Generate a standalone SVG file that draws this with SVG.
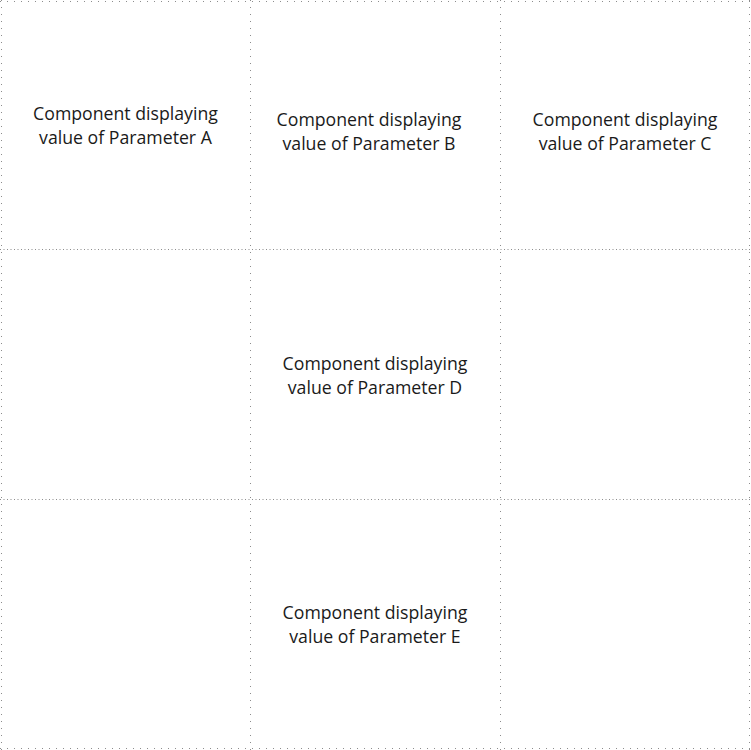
<svg xmlns="http://www.w3.org/2000/svg" width="751" height="750" viewBox="0 0 751 750">
<style>
.v{stroke:#8c8c8c;stroke-width:1;stroke-dasharray:1 6;fill:none}
.h{stroke:#8c8c8c;stroke-width:1;stroke-dasharray:1 6;fill:none}
.hi{stroke:#8c8c8c;stroke-width:1;stroke-dasharray:1 2.5;fill:none}
text{font-family:"Open Sans","Noto Sans",sans-serif;font-size:17.7px;font-weight:500;fill:#1a1a1a;text-anchor:middle}
</style>
<rect width="751" height="750" fill="#fff"/>
<g id="connectors">
<line class="h" x1="0" y1="1.5" x2="751" y2="1.5"/>
<line class="h" x1="0" y1="748.5" x2="751" y2="748.5"/>
<line class="v" x1="1.5" y1="0" x2="1.5" y2="750"/>
<line class="v" x1="749.5" y1="0" x2="749.5" y2="750"/>
<line class="v" x1="250.5" y1="0" x2="250.5" y2="750"/>
<line class="v" x1="500.5" y1="0" x2="500.5" y2="750"/>
<line class="hi" x1="0" y1="249.5" x2="751" y2="249.5"/>
<line class="hi" x1="0" y1="499.5" x2="751" y2="499.5"/>
</g>
<g id="nodeA"><text x="125.5" y="120">Component displaying</text><text x="125.5" y="143.5">value of Parameter A</text></g>
<g id="nodeB"><text x="369" y="126">Component displaying</text><text x="369" y="149.5">value of Parameter B</text></g>
<g id="nodeC"><text x="625" y="126">Component displaying</text><text x="625" y="149.5">value of Parameter C</text></g>
<g id="nodeD"><text x="375" y="370">Component displaying</text><text x="375" y="393.5">value of Parameter D</text></g>
<g id="nodeE"><text x="375" y="619">Component displaying</text><text x="375" y="642.5">value of Parameter E</text></g>
</svg>
